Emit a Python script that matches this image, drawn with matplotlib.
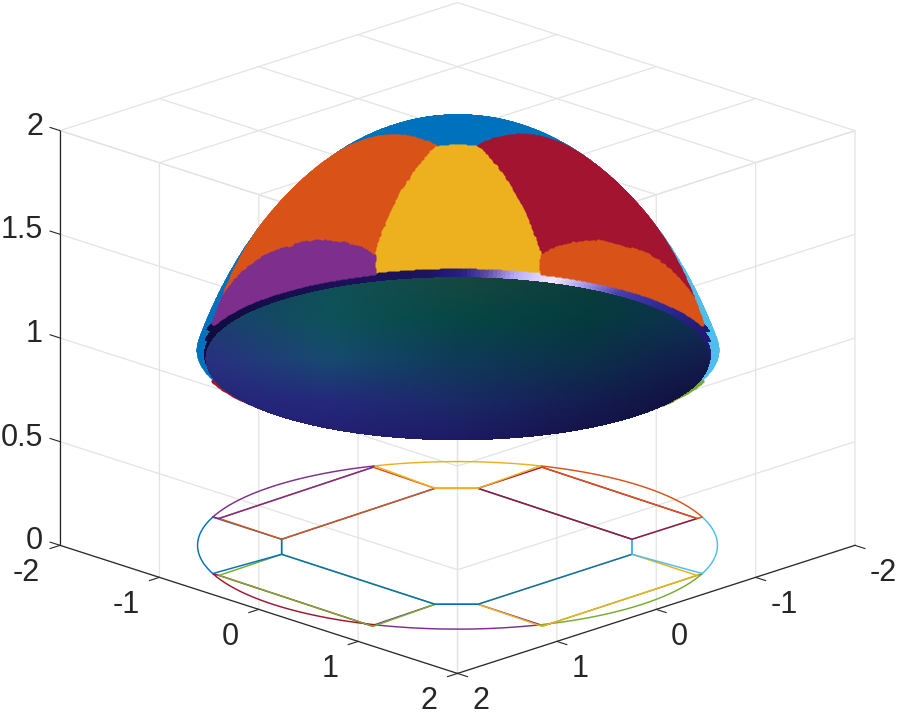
import numpy as np
import matplotlib
matplotlib.use('Agg')
import matplotlib.pyplot as plt
from matplotlib.path import Path
from matplotlib.ticker import NullFormatter
from matplotlib.colors import to_rgb
from mpl_toolkits.mplot3d import proj3d

# corners of the regions
rim_x = [-1.67, -1.67, -0.83, 0.79, 1.67, 1.67, 0.83, -0.79]
rim_y = [0.79, -0.83, -1.67, -1.67, -0.79, 0.83, 1.67, 1.67]
chord_x = [-1.62, -1.645, -0.795, 0.785, 1.675, 1.69, 0.84, -0.73]
chord_y = [0.78, -0.795, -1.645, -1.625, -0.735, 0.84, 1.69, 1.67]
inner_x = [-0.98, -1.003, -0.787, 0.783, 1.018, 1.023, 0.807, -0.745]
inner_y = [0.79, -0.777, -0.993, -0.973, -0.738, 0.817, 1.033, 1.025]

rim_radius = 1.85
dome_a = 2.085
dome_c = 2.02
# the region borders sit a little differently up on the dome than on the floor
dome_inner_scale = 0.93
dome_chord_scale = [0.983, 1.02, 1.04, 1.02, 0.983]

blue, orange, gold, purple = '#0072BD', '#D95319', '#EDB120', '#7E2F8E'
green, light_blue, red = '#77AC30', '#4DBEEE', '#A2142F'

ticks_xy = [-2, -1, 0, 1, 2]
ticks_z = [0, 0.5, 1, 1.5, 2]
labels_xy = ['-2', '-1', '0', '1', '2']
labels_z = ['0', '0.5', '1', '1.5', '2']

# colours of the dark underside, rows top to bottom of the screen
under_colors = [
    ['#14375c', '#0f5058', '#17473f', '#0c3d3c', '#0c2f4a'],
    ['#1a3f70', '#0d5258', '#064644', '#043b3c', '#0f2f55'],
    ['#2a2f80', '#164a70', '#0e3a58', '#0b3048', '#131a4d'],
    ['#26237a', '#24297c', '#1a2a66', '#141d50', '#100d3c'],
    ['#221c70', '#231c70', '#1e1966', '#150f48', '#0f0a35'],
]
# colours of the thin band behind it, left to right
band_pos = [-0.945, -0.52, -0.12, 0.01, 0.1, 0.21, 0.36, 0.48, 0.62, 0.82, 0.94]
band_colors = ['#100c40', '#1a1055', '#1d1460', '#2a2080', '#5a4aa0', '#b8a8f8',
               '#f4eaff', '#a89cec', '#4a3cac', '#2a2690', '#201a70']


def dome_z(x, y):
    r2 = np.asarray(x)**2 + np.asarray(y)**2
    return dome_c * np.sqrt(np.clip(1 - r2 / dome_a**2, 0, None))


def arc(i, j):
    """rim arc from corner i to corner j, the short way round"""
    a = np.arctan2(rim_y[i], rim_x[i])
    b = np.arctan2(rim_y[j], rim_x[j])
    d = (b - a + np.pi) % (2 * np.pi) - np.pi
    t = np.linspace(a, a + d, 40)
    return list(zip(rim_radius * np.cos(t), rim_radius * np.sin(t)))


def chord_pt(i):
    return (chord_x[i], chord_y[i])


def inner_pt(i):
    return (inner_x[i], inner_y[i])


def quad(i):
    j = (i + 1) % 8
    return [chord_pt(i), inner_pt(i), inner_pt(j), chord_pt(j)]


def lens(i):
    j = (i + 1) % 8
    return arc(i, j) + [chord_pt(j), chord_pt(i)]


def sector(i):
    j = (i + 1) % 8
    return arc(j, i) + [inner_pt(i), inner_pt(j)]


def dome_inner(i):
    return (inner_x[i] * dome_inner_scale, inner_y[i] * dome_inner_scale)


def dome_corner(i):
    return (chord_x[i] * dome_chord_scale[0], chord_y[i] * dome_chord_scale[0])


def dome_chord(i):
    j = (i + 1) % 8
    pts = []
    for t, k in zip(np.linspace(0, 1, 5), dome_chord_scale):
        pts.append(((chord_x[i] + t * (chord_x[j] - chord_x[i])) * k,
                    (chord_y[i] + t * (chord_y[j] - chord_y[i])) * k))
    return pts


def dome_quad(i):
    j = (i + 1) % 8
    return dome_chord(i) + [dome_inner(j), dome_inner(i)]


def dome_lens(i):
    return arc(i, (i + 1) % 8) + dome_chord(i)[::-1]


def dome_sector(i):
    j = (i + 1) % 8
    return arc(j, i) + [dome_corner(i), dome_inner(i), dome_inner(j), dome_corner(j)]


plt.rcParams['font.family'] = ['Liberation Sans', 'DejaVu Sans']
plt.rcParams['axes.edgecolor'] = '#262626'
plt.rcParams['axes.linewidth'] = 0.9
plt.rcParams['grid.color'] = '#e3e3e3'
plt.rcParams['grid.linewidth'] = 0.9

fig = plt.figure(figsize=(9, 7.2), dpi=100)
S = 900
ax = fig.add_axes([(457.5 - S * 0.5135) / 900, (720 - (338 + S * 0.5135)) / 720, S / 900, S / 720],
                  projection='3d', proj_type='ortho', computed_zorder=False)
ax.patch.set_alpha(0)
# seen from below, so the grid is on the roof and the two far walls
ax.view_init(elev=-18.8, azim=225)
ax.set_box_aspect((562, 562, 438), zoom=0.979)

for axis in [ax.xaxis, ax.yaxis, ax.zaxis]:
    axis.set_pane_color((1, 1, 1, 0))
    axis.pane.set_edgecolor('#cccccc')
    axis.pane.set_linewidth(0.9)
    axis.set_major_formatter(NullFormatter())
    axis._axinfo['tick']['inward_factor'] = 0
    axis._axinfo['tick']['outward_factor'] = 0
ax.xaxis.set_ticks_position('lower')
ax.yaxis.set_ticks_position('lower')
ax.zaxis.set_ticks_position('upper')

# native ticks point the wrong way from below, draw them along the floor edges
for v in ticks_xy:
    ax.plot([v, v], [2, 2.1], [0, 0], color='#262626', lw=0.8, zorder=1.5)
    ax.plot([2, 2.1], [v, v], [0, 0], color='#262626', lw=0.8, zorder=1.5)
for v in ticks_z:
    ax.plot([-2, -2.1], [2, 2], [v, v], color='#262626', lw=0.8, zorder=1.5)


def outline(poly, color, z):
    pts = np.array(poly + [poly[0]])
    ax.plot(pts[:, 0], pts[:, 1], 0 * pts[:, 0], color=color, lw=1.05, zorder=z)


# floor outline, the order sets which colour ends up on top of a shared border
outline(sector(5), purple, 2.00)
outline(lens(6), red, 2.01)
outline(lens(4), green, 2.02)
outline(quad(6), green, 2.03)
outline(quad(4), gold, 2.04)
outline([inner_pt(i) for i in range(8)], blue, 2.05)
outline(sector(7), blue, 2.06)
outline(sector(3), light_blue, 2.07)
outline(quad(0), orange, 2.08)
outline(quad(2), red, 2.09)
outline(lens(0), purple, 2.10)
outline(lens(2), orange, 2.11)
outline(sector(1), gold, 2.12)

# sample the dome evenly, then colour the samples by region
phi_max = np.arcsin(rim_radius / dome_a)
dome_x, dome_y = [], []
for phi in np.linspace(0, phi_max, 170):
    n = max(int(850 * np.sin(phi) / np.sin(phi_max)), 1)
    t = np.linspace(0, 2 * np.pi, n, endpoint=False)
    dome_x.append(dome_a * np.sin(phi) * np.cos(t))
    dome_y.append(dome_a * np.sin(phi) * np.sin(t))
dome_x = np.concatenate(dome_x)
dome_y = np.concatenate(dome_y)
dome_pts = np.column_stack([dome_x, dome_y])


def paint(poly, color, z):
    inside = Path(np.array(poly + [poly[0]])).contains_points(dome_pts, radius=0.001)
    ax.scatter(dome_x[inside], dome_y[inside], dome_z(dome_x[inside], dome_y[inside]),
               color=color, s=9, linewidths=0, depthshade=False, zorder=z)


paint([dome_inner(i) for i in range(8)], blue, 3)
paint(dome_quad(6), green, 3.1)
paint(dome_quad(4), gold, 3.1)
paint(dome_sector(5), purple, 3.1)
paint(dome_lens(6), red, 3.2)
paint(dome_lens(4), green, 3.2)
paint(dome_sector(7), blue, 3.3)
paint(dome_sector(3), light_blue, 3.3)

rad = np.linspace(0, 1, 50)
ang = np.linspace(0, 2 * np.pi, 361)
R, T = np.meshgrid(rad, ang)
band_rgb = np.array([to_rgb(c) for c in band_colors])


def band_faces(x, y, r):
    u = (x - y) / (r * np.sqrt(2))
    return np.dstack([np.interp(u, band_pos, band_rgb[:, k]) for k in range(3)])


# same band out to the rim on the far half, closes the gap under the back regions
fx = rim_radius * R * np.cos(T)
fy = rim_radius * R * np.sin(T)
fc = np.dstack([band_faces(fx, fy, rim_radius), np.ones_like(fx)])
fc[..., 3] = (((fx + fy) < 0) & (np.abs(fx - fy) / (rim_radius * np.sqrt(2)) < 0.95)).astype(float)
ax.plot_surface(fx, fy, 0.935 + 0 * fx, facecolors=fc, shade=False, rstride=1, cstride=1,
                linewidth=0, antialiased=False, zorder=3.35)

paint(dome_quad(0), orange, 3.4)
paint(dome_quad(2), red, 3.4)
paint(dome_sector(1), gold, 3.5)
paint(dome_lens(0), purple, 3.6)
paint(dome_lens(2), orange, 3.6)

# band and dark underside
bx = 1.80 * R * np.cos(T)
by = 1.80 * R * np.sin(T)
ax.plot_surface(bx, by, 0.92 + 0 * bx, facecolors=band_faces(bx, by, 1.80), shade=False, rstride=1, cstride=1,
                linewidth=0, antialiased=False, zorder=4)

under_rgb = np.array([[to_rgb(c) for c in row] for row in under_colors])
ux = 1.79 * R * np.cos(T)
uy = 1.79 * R * np.sin(T)
cu = ((ux - uy) / (1.79 * np.sqrt(2)) + 1) * 2
cv = ((ux + uy) / (1.79 * np.sqrt(2)) + 1) * 2
i0 = np.clip(np.floor(cu).astype(int), 0, 3)
j0 = np.clip(np.floor(cv).astype(int), 0, 3)
fu = (cu - i0)[..., None]
fv = (cv - j0)[..., None]
fc = (under_rgb[j0, i0] * (1 - fu) * (1 - fv) + under_rgb[j0, i0 + 1] * fu * (1 - fv)
      + under_rgb[j0 + 1, i0] * (1 - fu) * fv + under_rgb[j0 + 1, i0 + 1] * fu * fv)
ax.plot_surface(ux, uy, 0.90 + 0 * ux, facecolors=np.clip(fc, 0, 1), shade=False, rstride=1, cstride=1,
                linewidth=0, antialiased=False, zorder=5)

ax.set_xlim(-2, 2, view_margin=0)
ax.set_ylim(-2, 2, view_margin=0)
ax.set_zlim(0, 2, view_margin=0)
ax.set_xticks(ticks_xy)
ax.set_yticks(ticks_xy)
ax.set_zticks(ticks_z)

# tick labels hang off the box corners like the original
M = ax.get_proj()


def tick_label(x, y, z, s, dx, dy, ha):
    px, py, _ = proj3d.proj_transform(x, y, z, M)
    ax.annotate(s, (px, py), xytext=(dx, dy), textcoords='offset pixels', ha=ha, va='center',
                fontsize=22, color='#262626', annotation_clip=False, zorder=6)


for v, s in zip(ticks_xy, labels_xy):
    tick_label(v, 2, 0, s, -20, -28, 'right')
    tick_label(2, v, 0, s, 15, -28, 'left')
for v, s in zip(ticks_z, labels_z):
    tick_label(-2, 2, v, s, -17, 4, 'right')

fig.savefig('out.png', dpi=100)
